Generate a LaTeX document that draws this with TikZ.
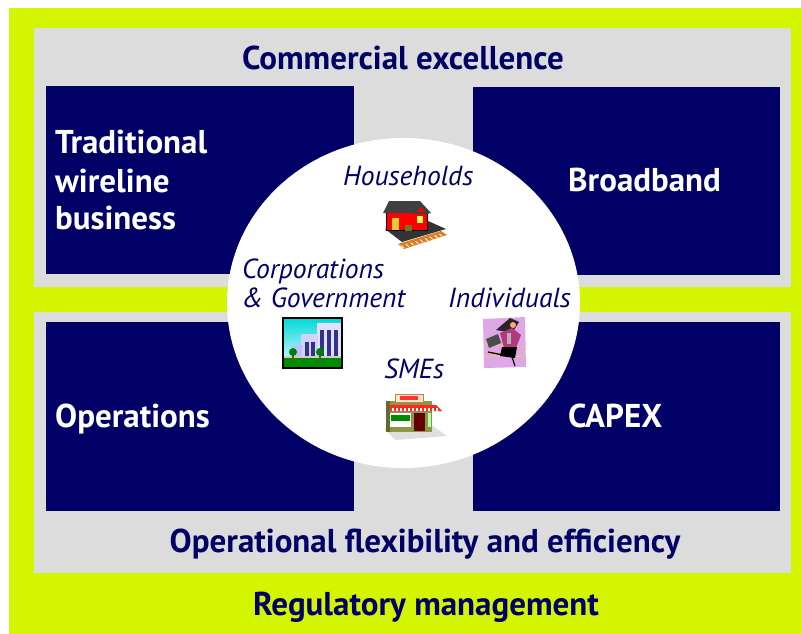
\documentclass[tikz,border=0pt]{standalone}
\usepackage{fontspec}
\setmainfont{PT Sans}
\usetikzlibrary{shapes.geometric}

\definecolor{regyellow}{RGB}{212,245,0}
\definecolor{panelgray}{RGB}{220,220,220}
\definecolor{deepnavy}{RGB}{0,0,102}
\definecolor{lilac}{RGB}{222,168,230}
\definecolor{shopgreen}{RGB}{140,150,70}

\begin{document}
\begin{tikzpicture}[x=1pt, y=-1pt,
    panel/.style={fill=panelgray, anchor=north west, inner sep=0},
    navybox/.style={fill=deepnavy, anchor=north west, inner sep=0},
    boxtext/.style={text=white, anchor=base west, inner sep=0, font=\fontsize{33}{40}\selectfont\bfseries},
    headline/.style={text=deepnavy, anchor=base, inner sep=0, font=\fontsize{33}{40}\selectfont\bfseries},
    segment/.style={text=deepnavy, anchor=base west, inner sep=0, font=\fontsize{27.6}{33}\selectfont\itshape}]
    \useasboundingbox (0,0) rectangle (801,634);
    \fill[white] (0,0) rectangle (801,634);
    \fill[regyellow] (9,8) rectangle (801,634);

    % two gray bands
    \node[panel, minimum width=757pt, minimum height=259pt] (upper) at (34,28) {};
    \node[panel, minimum width=757pt, minimum height=261pt] (lower) at (34,312) {};

    % four business blocks
    \node[navybox, minimum width=308pt, minimum height=188pt] (wireline) at (46,86) {};
    \node[navybox, minimum width=307pt, minimum height=188pt] (broadband) at (473,87) {};
    \node[navybox, minimum width=308pt, minimum height=189pt] (operations) at (46,322) {};
    \node[navybox, minimum width=307pt, minimum height=189pt] (capex) at (473,322) {};

    \foreach \word/\y [count=\i] in {Traditional/153, wireline/192, business/229}
      \node[boxtext] (trad\i) at (55,\y) {\word};
    \node[boxtext] (bbtext) at (568,191) {Broadband};
    \node[boxtext] (optext) at (55,427) {Operations};
    \node[boxtext] (cxtext) at (568,427) {CAPEX};

    \node[headline] (commercial) at (403,70) {Commercial excellence};
    \node[headline] (flexibility) at (425,552) {Operational flexibility and efficiency};
    \node[headline] (regulatory) at (426,615) {Regulatory management};

    % customer segments in the middle
    \node[ellipse, fill=white, inner sep=0, minimum width=353pt, minimum height=330pt] (customers) at (403.5,303) {};
    \node[segment] (households) at (343,185) {Households};
    \node[segment] (corporations) at (242,278) {Corporations};
    \node[segment] (government) at (242,307) {\& Government};
    \node[segment] (individuals) at (448,307) {Individuals};
    \node[segment] (smes) at (384,378) {SMEs};

    % station house
    \fill[brown!60!orange] (398,244) -- (441,231) -- (447,235) -- (404,249) -- cycle;
    \foreach \i in {0,...,8}
      \draw[white, line width=0.8pt] ({401+\i*4.8},{245.5-\i*1.45}) -- ++(3,2.6);
    \fill[black!80] (385,229) -- (428,221) -- (446,229) -- (402,242) -- cycle;
    \filldraw[fill=red, draw=black] (386,211) rectangle (427,230);
    \fill[black!75] (383,213) -- (389,201) -- (420,201) -- (431,213) -- cycle;
    \fill[black!75] (413,214) -- (421,203) -- (429,214) -- cycle;
    \fill[red] (417,212) -- (421,207) -- (425,212) -- cycle;
    \fill[yellow!60!brown] (392,218) rectangle (399,230);
    \fill[yellow!70] (417,216) rectangle (423,223);
    \fill[olive!80!black] (405,225) rectangle (412,231);

    % office building
    \fill[top color=cyan!70!teal, bottom color=cyan!10] (283,318) rectangle (342,368);
    \fill[blue!12] (317,323) rectangle (342,359);
    \fill[blue!18] (301,334) rectangle (318,359);
    \fill[blue!25] (292,345) rectangle (302,359);
    \foreach \x in {320,327,334}
      \fill[deepnavy!80] (\x,330) rectangle ++(4,27);
    \foreach \x in {305,311}
      \fill[deepnavy!80] (\x,342) rectangle ++(4,15);
    \fill[green!55!black] (283,357) rectangle (342,368);
    \fill[gray!40] (283,356) rectangle (342,358);
    \foreach \x in {293,320} {
      \fill[brown!60!black] (\x-0.7,355) rectangle (\x+0.7,361);
      \fill[green!50!black] (\x,352) circle (4);
    }
    \draw[black, line width=1.2pt] (283,318) rectangle (342,368);

    % running woman
    \fill[lilac] (483,319) -- (525,317) -- (526,367) -- (484,368) -- cycle;
    \draw[yellow!80!orange, line width=0.6pt] (484,342) .. controls (500,348) and (512,344) .. (527,349);
    \draw[yellow!80!orange, line width=0.6pt] (486,357) .. controls (500,352) and (514,360) .. (526,355);
    \fill[black!85] (496,330) -- (510,318) -- (519,322) -- (512,333) -- cycle;
    \fill[orange!40!pink] (513,325) circle (3);
    \fill[magenta!70!black] (500,333) -- (512,328) -- (521,335) -- (516,348) -- (504,348) -- cycle;
    \fill[gray!60] (507,333) rectangle (511,344);
    \fill[black] (502,347) -- (517,347) -- (515,358) -- (500,356) -- cycle;
    \draw[black, line width=1.2pt] (503,355) -- (488,352) (512,357) -- (515,366);
    \fill[black!70] (486,339) -- (498,334) -- (501,343) -- (489,348) -- cycle;

    % corner shop
    \fill[gray!25] (384,429) -- (433,426) -- (447,436) -- (396,440) -- cycle;
    \fill[shopgreen] (386,401) rectangle (432,432);
    \fill[shopgreen!70!black] (386,401) rectangle (390,432);
    \filldraw[fill=orange!20, draw=brown] (395,394) rectangle (423,402);
    \fill[red!80] (400,396) rectangle (418,400);
    \fill[red!85] (389,405) -- (436,405) -- (442,411) -- (391,411) -- cycle;
    \foreach \x in {392,396,...,436}
      \fill[white] (\x,408) rectangle ++(1.5,3);
    \fill[white] (390,413) rectangle (411,427);
    \fill[green!55!black] (391,415) rectangle (410,421);
    \fill[red!40!black] (414,413) rectangle (425,431);
    \fill[green!30] (428,413) rectangle (431,427);
\end{tikzpicture}
\end{document}
